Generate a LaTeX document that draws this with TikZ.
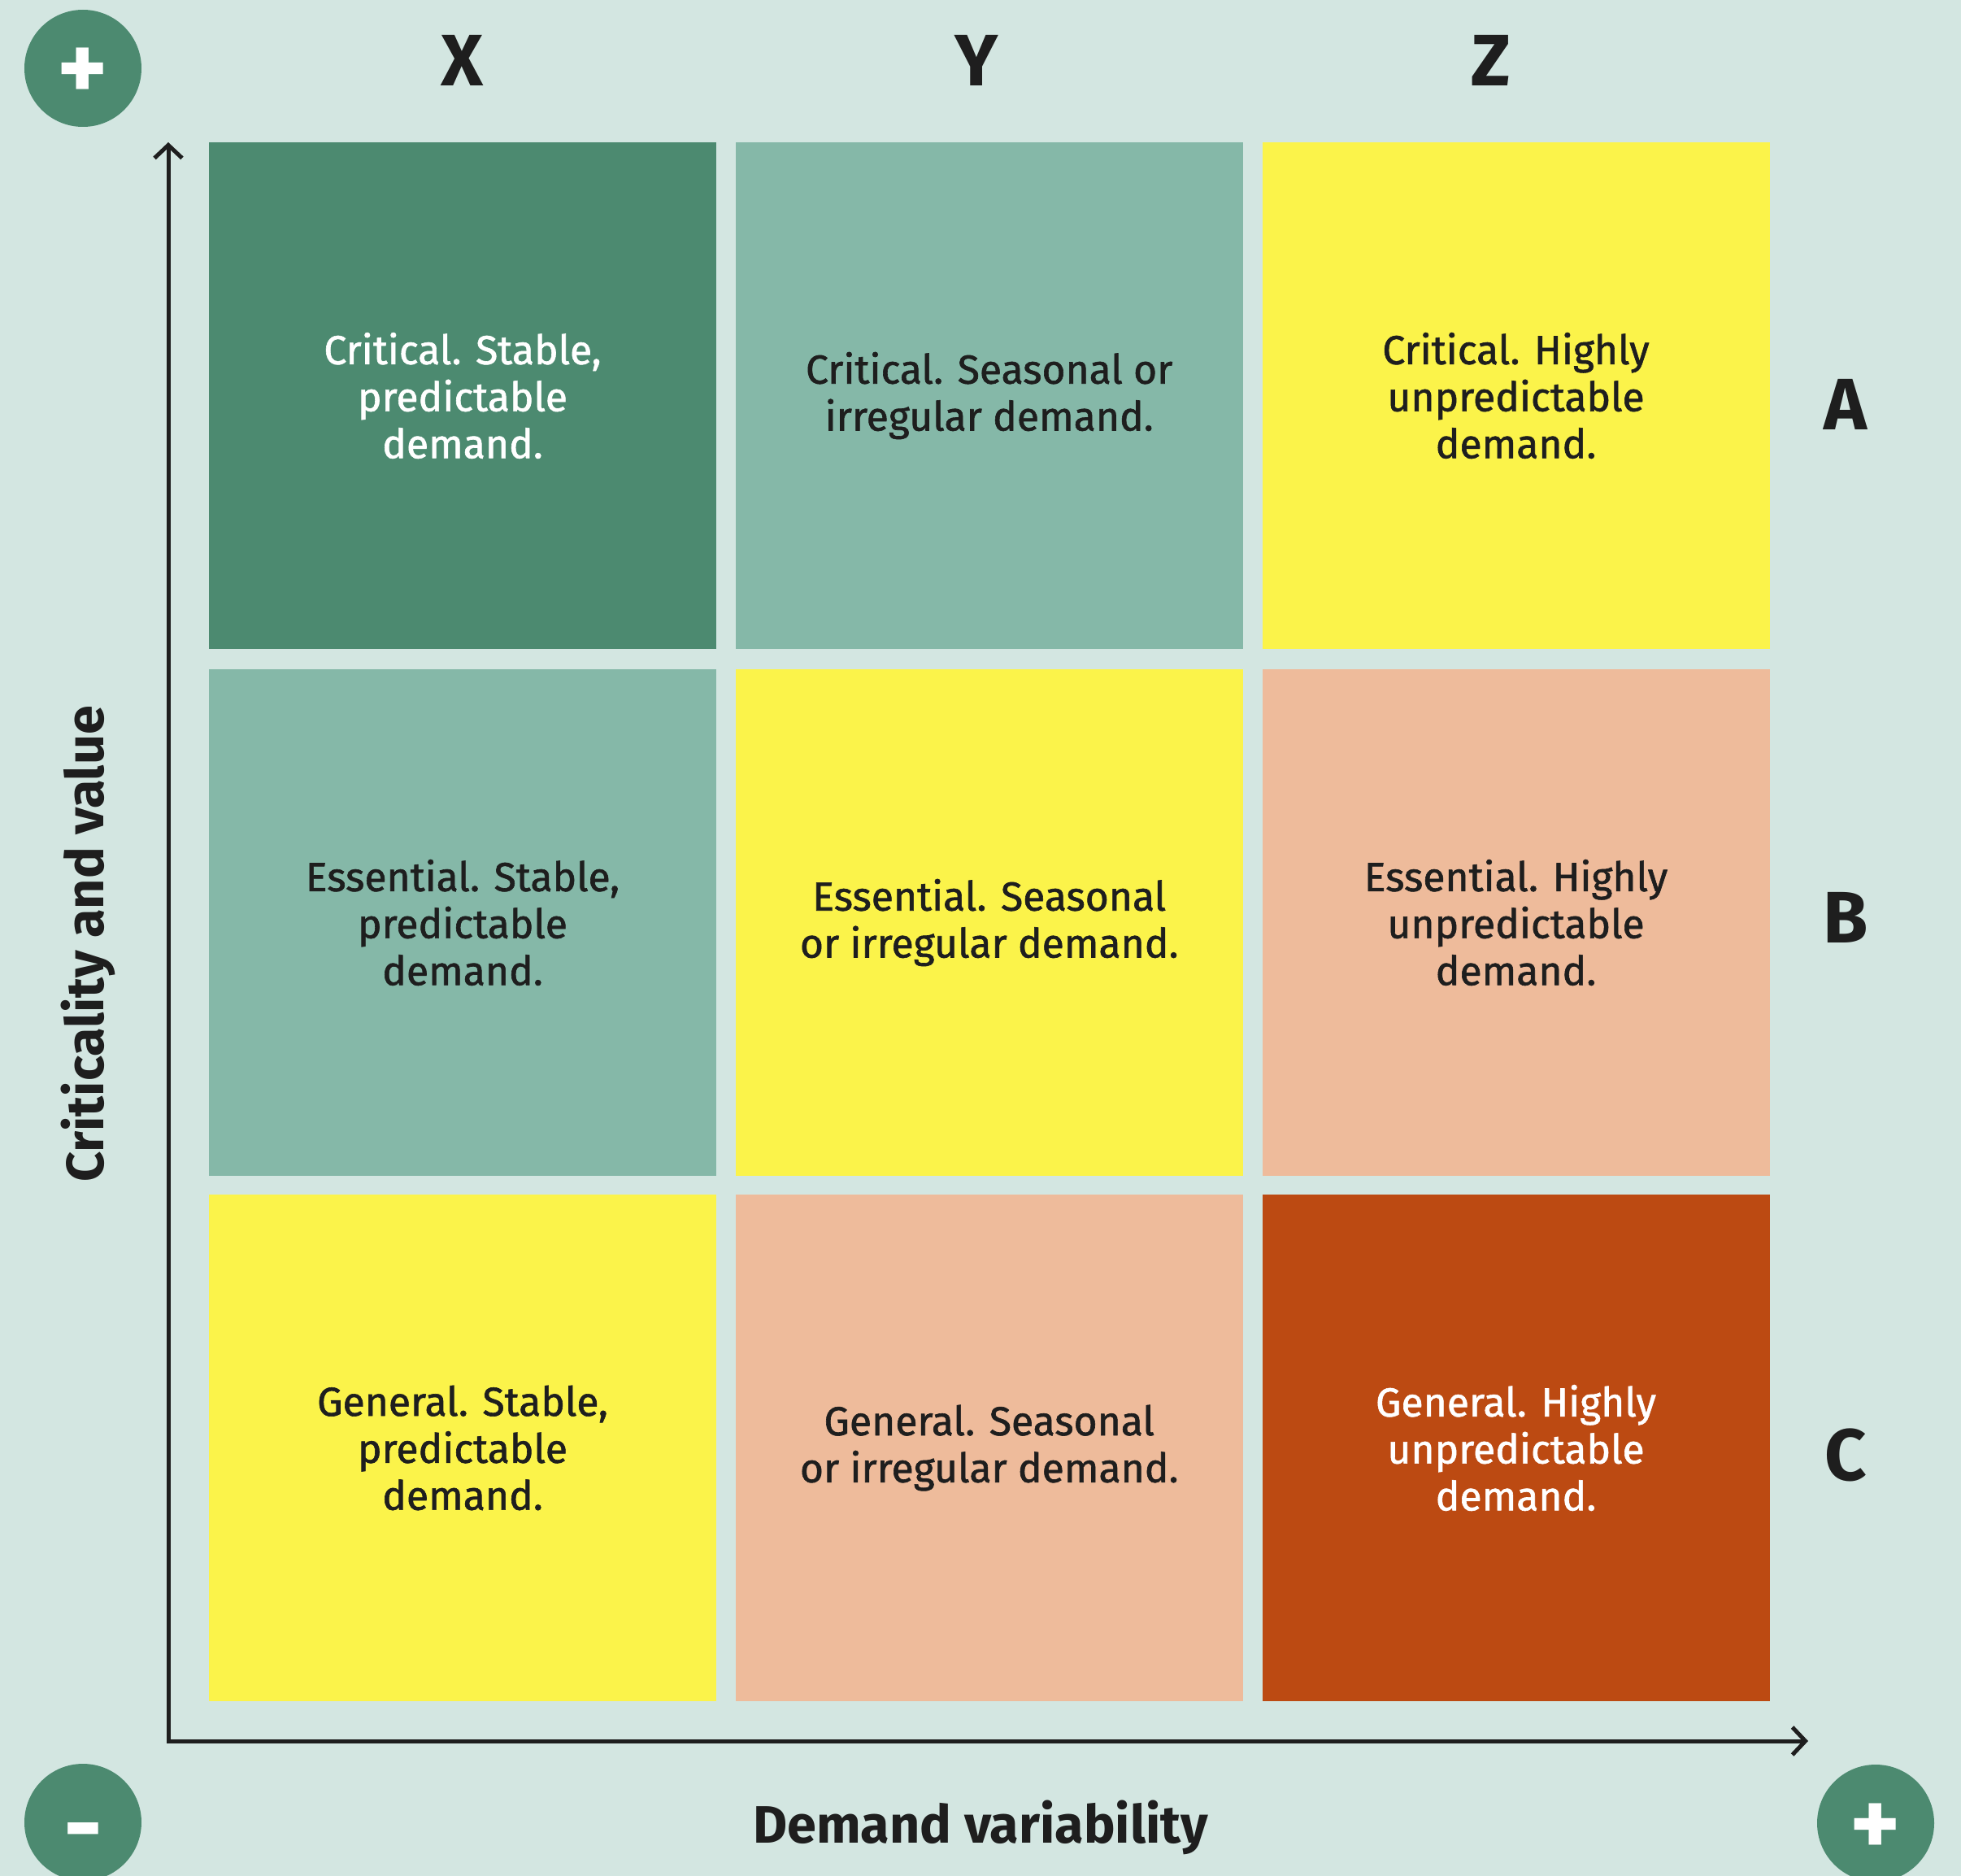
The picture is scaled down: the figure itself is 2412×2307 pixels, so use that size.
\documentclass[tikz,border=0pt]{standalone}
\usepackage{fontspec}
\setmainfont{Fira Sans}
\newfontfamily\cellfont{Fira Sans}[FakeBold=1.2]
\usetikzlibrary{arrows.meta}
\definecolor{bg}{HTML}{D3E6E1}
\definecolor{dkgreen}{HTML}{4C8A70}
\definecolor{teal}{HTML}{85B8A8}
\definecolor{yel}{HTML}{FBF34A}
\definecolor{peach}{HTML}{EEBB9B}
\definecolor{rust}{HTML}{BC4A12}
\definecolor{ink}{HTML}{1E1E1E}
\newcommand{\ctrsign}[2]{\raisebox{-#1bp}[0pt][0pt]{#2}}
\begin{document}
\begin{tikzpicture}[x=1bp,y=-1bp,
  cell/.style={rectangle,minimum width=624bp,minimum height=623bp,inner sep=0pt,align=center,text=ink,
    font=\cellfont\fontsize{50}{58}\selectfont},
  wtext/.style={text=white},
  circ/.style={circle,fill=dkgreen,minimum size=144bp,inner sep=0pt,text=white,font=\fontsize{118}{118}\selectfont\bfseries},
  hdr/.style={inner sep=0pt,text=ink,font=\fontsize{90}{90}\selectfont\bfseries},
  axlab/.style={inner sep=0pt,text=ink,font=\fontsize{65}{65}\selectfont\bfseries},
  axis/.style={draw=ink,line width=5bp,{Straight Barb[length=16bp,width=34bp]}-{Straight Barb[length=16bp,width=34bp]}}
]
\fill[bg] (0,0) rectangle (2412,2307);
\useasboundingbox (0,0) rectangle (2412,2307);

% cells
\node[cell,fill=dkgreen,wtext] (a1) at (569,486.5) {Critical. Stable,\\predictable\\demand.};
\node[cell,fill=teal] (a2) at (1216.75,486.5) {Critical. Seasonal or\\irregular demand.};
\node[cell,fill=yel] (a3) at (1864.5,486.5) {Critical. Highly\\unpredictable\\demand.};
\node[cell,fill=teal] (b1) at (569,1134.5) {Essential. Stable,\\predictable\\demand.};
\node[cell,fill=yel] (b2) at (1216.75,1134.5) {Essential. Seasonal\\or irregular demand.};
\node[cell,fill=peach] (b3) at (1864.5,1134.5) {Essential. Highly\\unpredictable\\demand.};
\node[cell,fill=yel] (c1) at (569,1780.5) {General. Stable,\\predictable\\demand.};
\node[cell,fill=peach] (c2) at (1216.75,1780.5) {General. Seasonal\\or irregular demand.};
\node[cell,fill=rust,wtext] (c3) at (1864.5,1780.5) {General. Highly\\unpredictable\\demand.};

% headers
\node[hdr] (hx) at (569,74) {X};
\node[hdr] (hy) at (1201,74) {Y};
\node[hdr] (hz) at (1834,74) {Z};
\node[hdr] (ra) at (2270,497) {A};
\node[hdr] (rb) at (2270,1128) {B};
\node[hdr] (rc) at (2270,1789) {C};

% axes
\coordinate (ytip) at (207,175);
\coordinate (orig) at (207,2141);
\coordinate (xtip) at (2224,2141);
\draw[axis] (ytip) -- (orig) -- (xtip);

\node[axlab,rotate=90] (ylab) at (108,1161) {Criticality and value};
\node[axlab] (xlab) at (1206,2247) {Demand variability};

% circles
\node[circ] (ctl) at (102,84) {\ctrsign{40}{+}};
\node[circ] (cbl) at (102,2241) {\ctrsign{44}{-}};
\node[circ] (cbr) at (2307,2242) {\ctrsign{40}{+}};
\end{tikzpicture}
\end{document}
